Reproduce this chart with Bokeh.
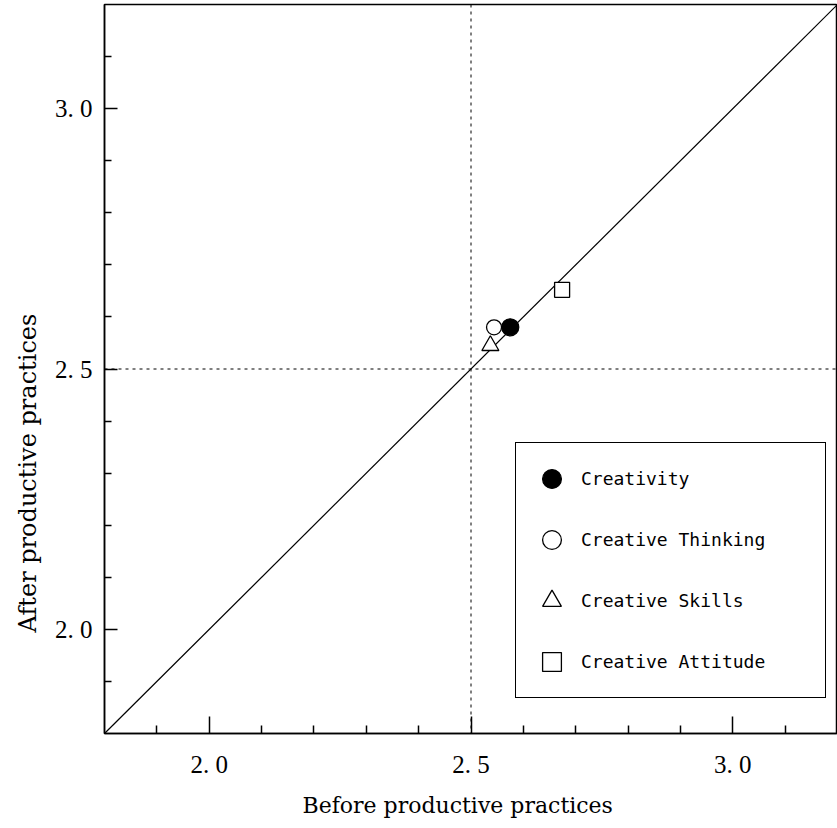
from bokeh.plotting import figure
from bokeh.models import FixedTicker, Span, Title, Legend, LegendItem
from bokeh.embed import file_html
from bokeh.resources import INLINE

# ---- data ----
series = ["Creativity", "Creative Thinking", "Creative Skills", "Creative Attitude"]
before = [2.575, 2.544, 2.537, 2.674]
after = [2.580, 2.580, 2.545, 2.652]
markers = ["circle", "circle", "triangle", "square"]
fills = ["black", "white", "white", "white"]
sizes = [17, 15, 17, 15]

major_ticks = [2.0, 2.5, 3.0]
major_labels = ["2. 0", "2. 5", "3. 0"]
minor_ticks = [1.9, 2.1, 2.2, 2.3, 2.4, 2.6, 2.7, 2.8, 2.9, 3.1]
diag = [1.8, 3.2]
ref_x = 2.5
ref_y = 2.5
x_title = "Before productive practices"
y_title = "After productive practices"

p = figure(width=837, height=828, x_range=(1.8, 3.2), y_range=(1.8, 3.2),
           output_backend="svg", toolbar_location=None,
           min_border_left=104, min_border_right=0, min_border_top=4, min_border_bottom=95)
p.background_fill_color = "white"
p.border_fill_color = "white"
p.outline_line_color = "black"
p.outline_line_width = 1.5
p.xgrid.visible = False
p.ygrid.visible = False

for ax, tin, mtin, standoff in ((p.xaxis[0], 17, 8, 17), (p.yaxis[0], 13, 7, 12)):
    ax.ticker = FixedTicker(ticks=major_ticks, minor_ticks=minor_ticks)
    ax.major_label_overrides = dict(zip(major_ticks, major_labels))
    ax.major_tick_in = tin
    ax.major_tick_out = 0
    ax.minor_tick_in = mtin
    ax.minor_tick_out = 0
    ax.axis_line_color = "black"
    ax.axis_line_width = 1.5
    ax.major_tick_line_color = "black"
    ax.major_tick_line_width = 1.5
    ax.minor_tick_line_color = "black"
    ax.minor_tick_line_width = 1.5
    ax.major_label_text_font = "Liberation Serif"
    ax.major_label_text_font_size = "25px"
    ax.major_label_text_color = "black"
    ax.major_label_standoff = standoff

# reference lines
p.add_layout(Span(location=ref_x, dimension="height", line_color="black",
                  line_width=1, line_dash="3 4"))
p.add_layout(Span(location=ref_y, dimension="width", line_color="black",
                  line_width=1, line_dash="3 4"))
p.line(x=diag, y=diag, line_color="black", line_width=1.2)

items = []
for name, bx, ay, mk, fc, sz in zip(series, before, after, markers, fills, sizes):
    r = p.scatter(x=[bx], y=[ay], marker=mk, size=sz, fill_color=fc,
                  line_color="black", line_width=1.3)
    items.append(LegendItem(label=name, renderers=[r]))

legend = Legend(items=items, location=(411, 35), orientation="vertical",
                glyph_width=47, glyph_height=47, label_standoff=6, label_width=232,
                label_height=24, spacing=14, padding=12,
                label_text_font="DejaVu Sans Mono", label_text_font_size="18px",
                label_text_color="black", border_line_color="black",
                border_line_width=1.2, border_line_alpha=1.0,
                background_fill_color="white", background_fill_alpha=1.0)
p.add_layout(legend, "center")

p.add_layout(Title(text=x_title, align="left", offset=198, standoff=21,
                   text_font="DejaVu Serif", text_font_size="22px",
                   text_font_style="normal", text_color="black"), "below")
p.add_layout(Title(text=y_title, align="left", offset=101, standoff=19,
                   text_font="DejaVu Serif", text_font_size="24px",
                   text_font_style="normal", text_color="black"), "left")

open("out.html", "w").write(file_html(p, INLINE))
